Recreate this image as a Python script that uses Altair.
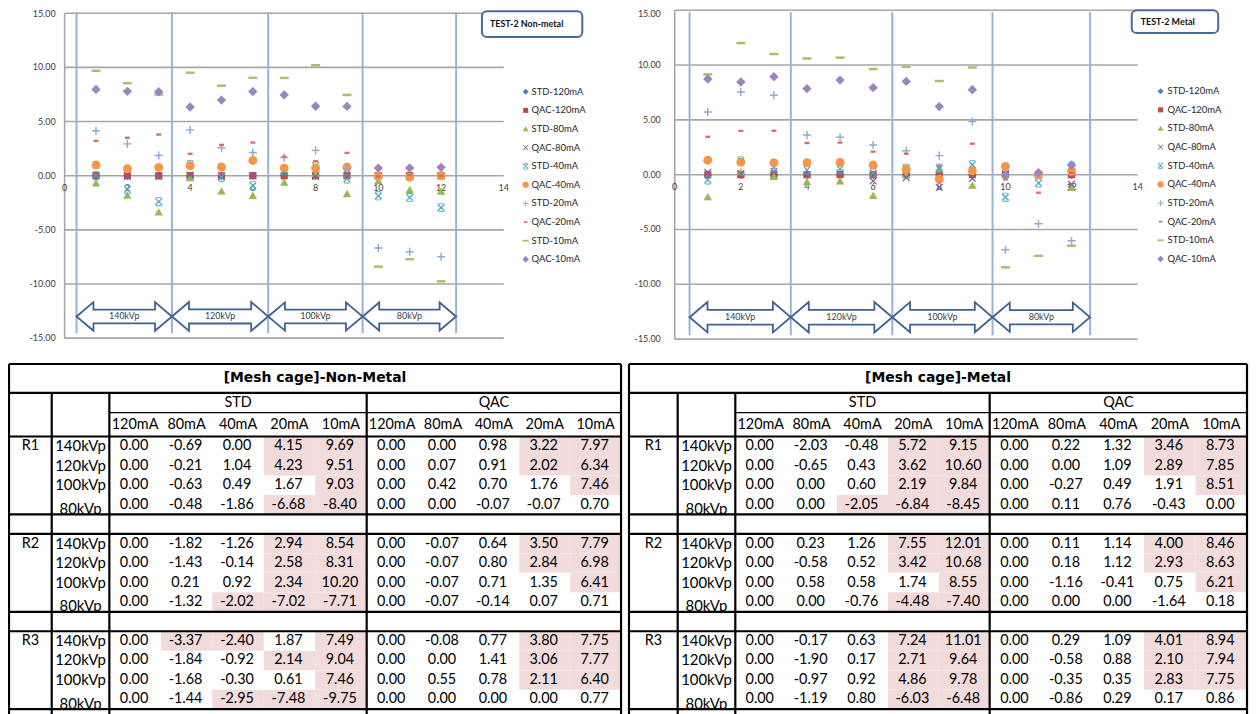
import altair as alt
import pandas as pd

# ---------------- data ----------------
KVP = ["140kVp", "120kVp", "100kVp", "80kVp"]
MA = ["120mA", "80mA", "40mA", "20mA", "10mA"]
RUNS = ["R1", "R2", "R3"]
GROUPS = ["STD", "QAC"]

# Non-metal: rows = 140/120/100/80 kVp, cols = 120/80/40/20/10 mA
NM_STD_R1 = [[0.00, -0.69, 0.00, 4.15, 9.69], [0.00, -0.21, 1.04, 4.23, 9.51], [0.00, -0.63, 0.49, 1.67, 9.03], [0.00, -0.48, -1.86, -6.68, -8.40]]
NM_STD_R2 = [[0.00, -1.82, -1.26, 2.94, 8.54], [0.00, -1.43, -0.14, 2.58, 8.31], [0.00, 0.21, 0.92, 2.34, 10.20], [0.00, -1.32, -2.02, -7.02, -7.71]]
NM_STD_R3 = [[0.00, -3.37, -2.40, 1.87, 7.49], [0.00, -1.84, -0.92, 2.14, 9.04], [0.00, -1.68, -0.30, 0.61, 7.46], [0.00, -1.44, -2.95, -7.48, -9.75]]
NM_QAC_R1 = [[0.00, 0.00, 0.98, 3.22, 7.97], [0.00, 0.07, 0.91, 2.02, 6.34], [0.00, 0.42, 0.70, 1.76, 7.46], [0.00, 0.00, -0.07, -0.07, 0.70]]
NM_QAC_R2 = [[0.00, -0.07, 0.64, 3.50, 7.79], [0.00, -0.07, 0.80, 2.84, 6.98], [0.00, -0.07, 0.71, 1.35, 6.41], [0.00, -0.07, -0.14, 0.07, 0.71]]
NM_QAC_R3 = [[0.00, -0.08, 0.77, 3.80, 7.75], [0.00, 0.00, 1.41, 3.06, 7.77], [0.00, 0.55, 0.78, 2.11, 6.40], [0.00, 0.00, 0.00, 0.00, 0.77]]

# Metal
M_STD_R1 = [[0.00, -2.03, -0.48, 5.72, 9.15], [0.00, -0.65, 0.43, 3.62, 10.60], [0.00, 0.00, 0.60, 2.19, 9.84], [0.00, 0.00, -2.05, -6.84, -8.45]]
M_STD_R2 = [[0.00, 0.23, 1.26, 7.55, 12.01], [0.00, -0.58, 0.52, 3.42, 10.68], [0.00, 0.58, 0.58, 1.74, 8.55], [0.00, 0.00, -0.76, -4.48, -7.40]]
M_STD_R3 = [[0.00, -0.17, 0.63, 7.24, 11.01], [0.00, -1.90, 0.17, 2.71, 9.64], [0.00, -0.97, 0.92, 4.86, 9.78], [0.00, -1.19, 0.80, -6.03, -6.48]]
M_QAC_R1 = [[0.00, 0.22, 1.32, 3.46, 8.73], [0.00, 0.00, 1.09, 2.89, 7.85], [0.00, -0.27, 0.49, 1.91, 8.51], [0.00, 0.11, 0.76, -0.43, 0.00]]
M_QAC_R2 = [[0.00, 0.11, 1.14, 4.00, 8.46], [0.00, 0.18, 1.12, 2.93, 8.63], [0.00, -1.16, -0.41, 0.75, 6.21], [0.00, 0.00, 0.00, -1.64, 0.18]]
M_QAC_R3 = [[0.00, 0.29, 1.09, 4.01, 8.94], [0.00, -0.58, 0.88, 2.10, 7.94], [0.00, -0.35, 0.35, 2.83, 7.75], [0.00, -0.86, 0.29, 0.17, 0.86]]

# highlighted (shaded) cells of the tables, per run, per kVp row
NM_STD_HL = [["00011", "00011", "00001", "00011"], ["00011", "00011", "00011", "00111"], ["01101", "00011", "00001", "00111"]]
NM_QAC_HL = [["00011", "00011", "00001", "00000"], ["00011", "00011", "00001", "00000"], ["00011", "00011", "00011", "00000"]]
M_STD_HL = [["00011", "00011", "00011", "00111"], ["00011", "00011", "00001", "00011"], ["00011", "00011", "00011", "00011"]]
M_QAC_HL = [["00011", "00011", "00001", "00000"], ["00011", "00011", "00001", "00000"], ["00011", "00011", "00011", "00000"]]

NM_STD = [NM_STD_R1, NM_STD_R2, NM_STD_R3]
NM_QAC = [NM_QAC_R1, NM_QAC_R2, NM_QAC_R3]
M_STD = [M_STD_R1, M_STD_R2, M_STD_R3]
M_QAC = [M_QAC_R1, M_QAC_R2, M_QAC_R3]

# ---------------- style / layout ----------------
OX, OY = 8, 8
W, H = 1249, 706
FONT = "Lato"

SERIES = [f"{g}-{m}" for m in MA for g in GROUPS]
COLORS = ["#4A7EBB", "#BE4B48", "#98B954", "#7D60A0", "#46AAC5",
          "#F79646", "#8DA9D4", "#DA6D69", "#A5C26C", "#9A85BE"]
XPATH = "M-0.85,-0.65L-0.65,-0.85L0.85,0.65L0.65,0.85Z M0.65,-0.85L0.85,-0.65L-0.65,0.85L-0.85,0.65Z"
SHAPES = [
    "M0,-0.95L0.95,0L0,0.95L-0.95,0Z",
    "M-0.8,-0.8H0.8V0.8H-0.8Z",
    "M0,-0.9L0.95,0.75H-0.95Z",
    XPATH,
    XPATH + " M-0.6,-1H0.6V-0.8H-0.6Z M-0.6,0.8H0.6V1H-0.6Z",
    "circle",
    "M-0.9,-0.16H0.9V0.16H-0.9Z M-0.16,-0.9H0.16V0.9H-0.16Z",
    "M-0.55,-0.26H0.55V0.26H-0.55Z",
    "M-1,-0.28H1V0.28H-1Z",
    "M0,-1.05L1.05,0L0,1.05L-1.05,0Z",
]
ARROW = "M-1,0L-0.646,-0.3L-0.646,-0.146L0.646,-0.146L0.646,-0.3L1,0L0.646,0.3L0.646,0.146L-0.646,0.146L-0.646,0.3Z"

color_enc = lambda: alt.Color("series:N", scale=alt.Scale(domain=SERIES, range=COLORS), legend=None)
shape_enc = lambda: alt.Shape("series:N", scale=alt.Scale(domain=SERIES, range=SHAPES), legend=None)


def scatter_layers(std_runs, qac_runs, title, g):
    xs = alt.Scale(domain=[0, 14], range=[g["x0"] - OX, g["x14"] - OX], zero=False, nice=False)
    ys = alt.Scale(domain=[-15, 15], range=[g["ym15"] - OY, g["y15"] - OY], zero=False, nice=False)
    X = lambda f: alt.X(f, scale=xs, axis=None)
    Y = lambda f: alt.Y(f, scale=ys, axis=None)

    ticks_y = list(range(-15, 16, 5))
    grid_df = pd.DataFrame({"y": ticks_y, "a": 0, "b": 14, "lab": [f"{v:.2f}" for v in ticks_y]})
    grid = alt.Chart(grid_df).mark_rule(color="#A6A6A6", strokeWidth=1.6).encode(x=X("a:Q"), x2="b:Q", y=Y("y:Q"))
    lab_kw = dict(align="right", baseline="middle", dx=g["ldx"], font=FONT, fontSize=9, color="#404040")
    ylab = alt.Chart(grid_df[grid_df["y"] < 15]).mark_text(**lab_kw).encode(x=X("a:Q"), y=Y("y:Q"), text="lab:N")
    ylab_top = alt.Chart(grid_df[grid_df["y"] == 15]).mark_text(dy=g["topdy"], **lab_kw).encode(
        x=X("a:Q"), y=Y("y:Q"), text="lab:N")
    xt = list(range(0, 15, 2))
    xt_df = pd.DataFrame({"x": xt, "y": 0, "lab": [str(v) for v in xt]})
    xlab = alt.Chart(xt_df).mark_text(baseline="middle", dy=12, font=FONT, fontSize=9,
                                      color="#404040").encode(x=X("x:Q"), y=Y("y:Q"), text="lab:N")
    ax_df = pd.DataFrame({"x": [0], "y": [-15], "y2": [15]})
    yaxis = alt.Chart(ax_df).mark_rule(color="#A6A6A6", strokeWidth=1.6).encode(x=X("x:Q"), y=Y("y:Q"), y2="y2:Q")

    seps = g["seps"]
    sep = alt.Chart(pd.DataFrame({"x": seps})).mark_rule(color="#95B3D7", strokeWidth=2).encode(
        x=X("x:Q"), y=alt.value(g["sep_top"] - OY), y2=alt.value(g["sep_bot"] - OY))

    ppu = (g["x14"] - g["x0"]) / 14.0
    centers = [(seps[i] + seps[i + 1]) / 2 for i in range(4)]
    sizes = [((seps[i + 1] - seps[i]) * ppu) ** 2 for i in range(4)]
    arr_df = pd.DataFrame({"x": centers, "y": -13.0, "sz": sizes, "lab": KVP})
    arrow = alt.Chart(arr_df).mark_point(shape=ARROW, filled=True, fill="white", stroke="#3F6191",
                                         strokeWidth=1.8, opacity=1).encode(
        x=X("x:Q"), y=Y("y:Q"), size=alt.Size("sz:Q", scale=None, legend=None))
    arrow_lab = alt.Chart(arr_df).mark_text(font=FONT, fontSize=9, color="#404040", baseline="middle").encode(
        x=X("x:Q"), y=Y("y:Q"), text="lab:N")

    rows = []
    for mi, ma in enumerate(MA):
        for gi, runs in enumerate([std_runs, qac_runs]):
            name = f"{GROUPS[gi]}-{ma}"
            for ri, run in enumerate(runs):
                for ki in range(4):
                    rows.append({"series": name, "x": 3 * ki + ri + 1, "y": run[ki][mi]})
    pts_df = pd.DataFrame(rows)
    pts = alt.Chart(pts_df).mark_point(filled=True, size=81, opacity=1).encode(
        x=X("x:Q"), y=Y("y:Q"), color=color_enc(), shape=shape_enc())

    tdf = pd.DataFrame({"t": [title]})
    bx0, by0, bx1, by1 = g["box"]
    box = alt.Chart(tdf).mark_rect(cornerRadius=5, fill="white", stroke="#4A6A96", strokeWidth=2).encode(
        x=alt.value(bx0 - OX), x2=alt.value(bx1 - OX), y=alt.value(by0 - OY), y2=alt.value(by1 - OY))
    btxt = alt.Chart(tdf).mark_text(align="left", baseline="middle", font=FONT, fontSize=9, fontWeight="bold",
                                    color="#111111").encode(
        x=alt.value(g["tx"] - OX), y=alt.value(g["ty"] - OY), text="t:N")

    main = alt.layer(grid, yaxis, sep, arrow, arrow_lab, xlab, ylab, ylab_top, pts, box, btxt)

    leg_df = pd.DataFrame({"series": SERIES, "i": list(range(10))})
    ls = alt.Scale(domain=[0, 9], range=[g["ly0"] - OY, g["ly9"] - OY], zero=False, nice=False)
    lp = alt.Chart(leg_df).mark_point(filled=True, size=40, opacity=1).encode(
        x=alt.value(g["lmx"] - OX), y=alt.Y("i:Q", scale=ls, axis=None), color=color_enc(), shape=shape_enc())
    lt = alt.Chart(leg_df).mark_text(align="left", baseline="middle", font=FONT, fontSize=9.5,
                                     color="#262626").encode(
        x=alt.value(g["ltx"] - OX), y=alt.Y("i:Q", scale=ls, axis=None), text="series:N")
    legend = alt.layer(lp, lt)
    return [main, legend]


def table_layer(title, std_runs, qac_runs, std_hl, qac_hl, XR, YR):
    xs = alt.Scale(domain=[0, 1, 2, 7, 12], range=[v - OX for v in XR], zero=False, nice=False)
    ys = alt.Scale(domain=[0, 1, 2, 3, 18], range=[v - OY for v in YR], zero=False, nice=False)
    X = lambda f: alt.X(f, scale=xs, axis=None)
    Y = lambda f: alt.Y(f, scale=ys, axis=None)

    cells, pinks, kv, rl = [], [], [], []
    for ri, run in enumerate(RUNS):
        base = 3 + ri * 5
        rl.append({"x": 0.5, "y": base + 0.5, "t": run})
        for ki, k in enumerate(KVP):
            row = base + ki
            kv.append({"x": 1.5, "y": row + 0.5 + (0.22 if ki == 3 else 0.0), "t": k})
            for gi, (vals, hl) in enumerate([(std_runs, std_hl), (qac_runs, qac_hl)]):
                for mi in range(5):
                    col = 2 + gi * 5 + mi
                    v = vals[ri][ki][mi]
                    cells.append({"x": col + 0.5, "y": row + 0.5, "t": f"{v:.2f}"})
                    if hl[ri][ki][mi] == "1":
                        pinks.append({"c0": col, "c1": col + 1, "r0": row, "r1": row + 1})
    hdr = []
    for gi, gname in enumerate(GROUPS):
        hdr.append({"x": 2 + gi * 5 + 2.5, "y": 1.5, "t": gname})
        for mi, m in enumerate(MA):
            hdr.append({"x": 2 + gi * 5 + mi + 0.5, "y": 2.5, "t": m})

    pink = alt.Chart(pd.DataFrame(pinks)).mark_rect(color="#F2DCDB").encode(
        x=X("c0:Q"), x2="c1:Q", y=Y("r0:Q"), y2="r1:Q")
    txt_kw = dict(font=FONT, color="#000000", baseline="middle")
    vals_t = alt.Chart(pd.DataFrame(cells)).mark_text(fontSize=14.5, dx=-1, **txt_kw).encode(
        x=X("x:Q"), y=Y("y:Q"), text="t:N")
    kv_t = alt.Chart(pd.DataFrame(kv)).mark_text(fontSize=15, **txt_kw).encode(
        x=X("x:Q"), y=Y("y:Q"), text="t:N")
    rl_t = alt.Chart(pd.DataFrame(rl)).mark_text(fontSize=14.5, **txt_kw).encode(
        x=X("x:Q"), y=Y("y:Q"), text="t:N")
    hdr_t = alt.Chart(pd.DataFrame(hdr)).mark_text(fontSize=14.5, **txt_kw).encode(
        x=X("x:Q"), y=Y("y:Q"), text="t:N")
    ttl = alt.Chart(pd.DataFrame({"y": [0.5], "t": [title]})).mark_text(
        font="DejaVu Sans", fontWeight="bold", fontSize=14, color="#000000", baseline="middle").encode(
        x=alt.value((XR[0] + XR[-1]) / 2 - OX), y=Y("y:Q"), text="t:N")

    covers = pd.DataFrame({"a": [0, 0, 0], "b": [12, 12, 12], "r0": [7, 12, 17], "r1": [8, 13, 18]})
    cover = alt.Chart(covers).mark_rect(color="white").encode(x=X("a:Q"), x2="b:Q", y=Y("r0:Q"), y2="r1:Q")

    hl_thick = pd.DataFrame({"y": [0, 1, 3, 7, 8, 12, 13, 17], "a": 0, "b": 12})
    hl_thin = pd.DataFrame({"y": [2], "a": [2], "b": [12]})
    vl = pd.DataFrame({"x": [0, 12, 1, 2, 7], "a": [0, 0, 1, 1, 1], "b": [18, 18, 18, 18, 18]})
    h1 = alt.Chart(hl_thick).mark_rule(color="#000000", strokeWidth=2.2).encode(x=X("a:Q"), x2="b:Q", y=Y("y:Q"))
    h2 = alt.Chart(hl_thin).mark_rule(color="#000000", strokeWidth=1.3).encode(x=X("a:Q"), x2="b:Q", y=Y("y:Q"))
    v1 = alt.Chart(vl).mark_rule(color="#000000", strokeWidth=2.2).encode(x=X("x:Q"), y=Y("a:Q"), y2="b:Q")
    return alt.layer(pink, vals_t, kv_t, rl_t, hdr_t, ttl, cover, h1, h2, v1)


GL = dict(x0=65, x14=507, y15=11, ym15=338, ldx=-9, topdy=1, seps=[0.38, 3.42, 6.49, 9.5, 12.48], sep_top=10,
          sep_bot=333, box=(485, 9, 586, 35), tx=493, ty=22, lmx=529, ltx=535, ly0=90, ly9=258.7)
GR = dict(x0=679, x14=1145, y15=8, ym15=339, ldx=-14, topdy=4, seps=[0.45, 3.51, 6.58, 9.61, 12.56], sep_top=10,
          sep_bot=335, box=(1139, 8, 1226, 31), tx=1148, ty=19.5, lmx=1168, ltx=1175, ly0=89.5, ly9=258.3)

YR = [364, 393, 413, 437, 437 + 15 * 19.6]
layers = []
layers += scatter_layers(NM_STD, NM_QAC, "TEST-2  Non-metal", GL)
layers += scatter_layers(M_STD, M_QAC, "TEST-2  Metal", GR)
layers.append(table_layer("[Mesh cage]-Non-Metal", NM_STD, NM_QAC, NM_STD_HL, NM_QAC_HL, [9, 52, 110, 369, 625], YR))
layers.append(table_layer("[Mesh cage]-Metal", M_STD, M_QAC, M_STD_HL, M_QAC_HL, [633, 682, 740, 996, 1255], YR))

chart = alt.layer(*layers).resolve_scale(
    x="independent", y="independent", color="independent", shape="independent", size="independent"
).properties(width=W, height=H, padding=0, autosize=alt.AutoSizeParams(type="none")).configure_view(stroke=None)

chart.save("out.html", embed_options={"renderer": "svg", "actions": False})
